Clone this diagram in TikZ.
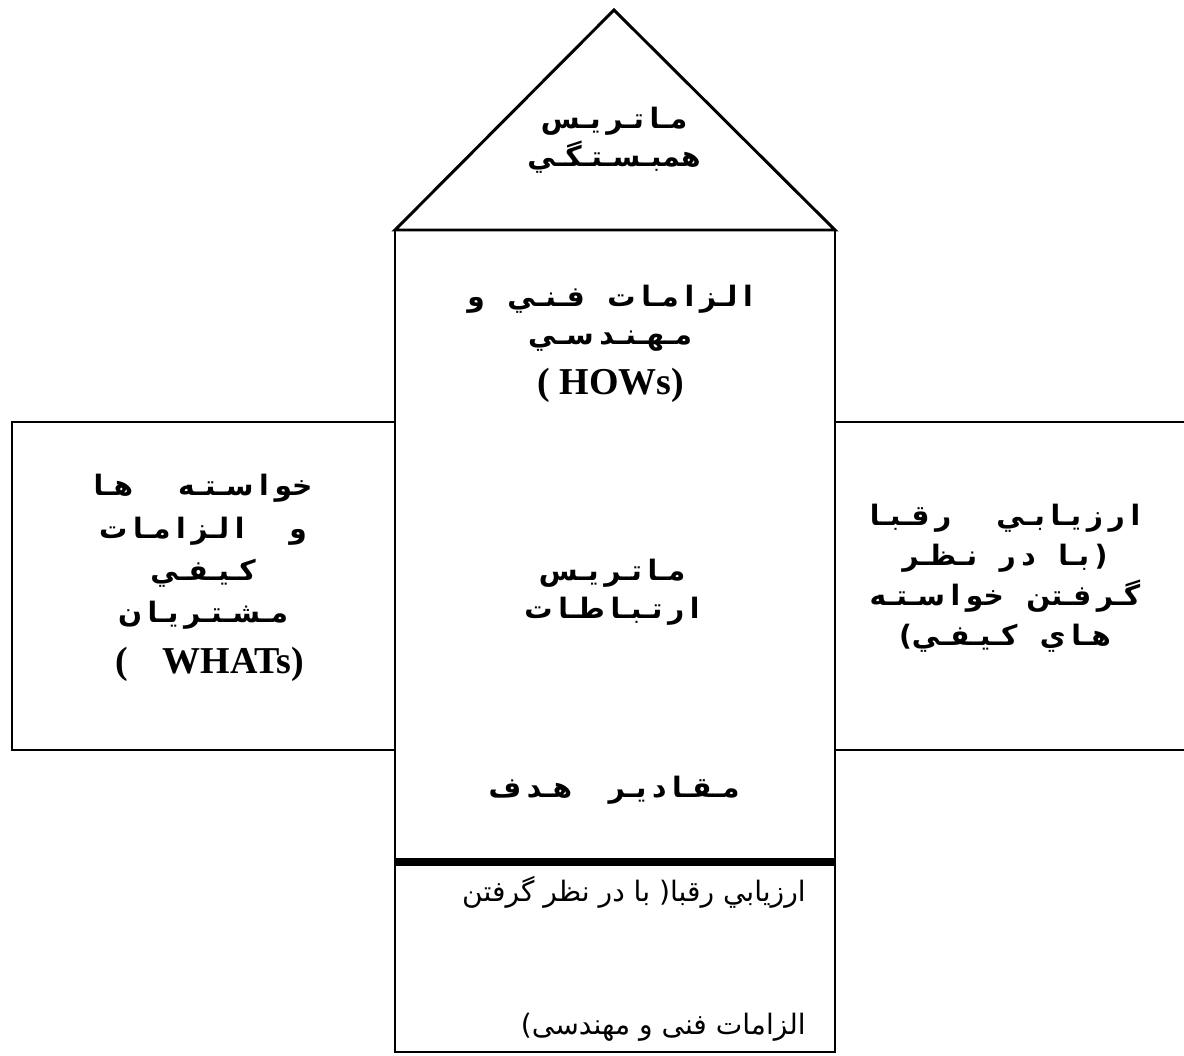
\documentclass[tikz,border=0pt]{standalone}
\usepackage{fontspec}
\usetikzlibrary{positioning}
\TeXXeTstate=1
\newfontfamily\arabicfont[Script=Arabic]{DejaVu Sans}
\newfontfamily\latinserif{Liberation Serif}
\newcommand{\rtl}[1]{\beginR #1\endR}
\newcommand{\wgap}{\hspace{0.8em}}

\begin{document}
\begin{tikzpicture}[x=0.025cm, y=-0.025cm,
    wall/.style={black, line width=2.1pt},
    label/.style={align=center, font=\fontsize{20}{27}\selectfont\arabicfont\bfseries,
      execute at begin node={\spaceskip=4pt\relax}},
    latin/.style={font=\fontsize{27}{29}\selectfont\latinserif\bfseries},
    note/.style={anchor=east, inner sep=0pt, font=\fontsize{20}{24}\selectfont\arabicfont}]
	\useasboundingbox (0,0) rectangle (1184,1055);
	\coordinate (apex) at (614,10);
	\coordinate (roofL) at (395,230);
	\coordinate (roofR) at (835,230);
	\draw[wall, line join=miter](roofL) -- (apex) -- (roofR) -- cycle;
	\draw[wall](roofL) rectangle (835,1052);
	\draw[wall](12,422) rectangle (395,750);
	\draw[wall](835,422) -- (1184,422);
	\draw[wall](835,750) -- (1184,750);
	\draw[black, line width=5.7pt](395,862) -- (835,862);
	\node[label] (corr) at (614,140){\rtl{مـا تـر يـس}\\\rtl{همبـسـتـگـي}};
	\node[label] (hows) at (610,318){\rtl{ا لـز ا مـا ت\wgap فـنـي\wgap و}\\\rtl{مـهـنـد سـي}};
	\node[latin] (howsEn) at (611,385){( HOWs)};
	\node[label, font=\fontsize{20}{30}\selectfont\arabicfont\bfseries] (whats) at (203,552){\rtl{خو ا سـتـه\wgap\wgap هـا}\\\rtl{و\wgap\wgap ا لـز ا مـا ت}\\\rtl{كـيـفـي}\\\rtl{مـشـتـر يـا ن}};
	\node[latin] (whatsEn) at (210,664){(\hspace{0.9em}WHATs)};
	\node[label] (links) at (612,592){\rtl{مـا تـر يـس}\\\rtl{ا ر تـبـا طـا ت}};
	\node[label, font=\fontsize{20}{28.5}\selectfont\arabicfont\bfseries] (rivals) at (1005,578){\rtl{ا ر ز يـا بـي\wgap\wgap ر قـبـا}\\\rtl{( بـا\wgap د ر\wgap نـظـر}\\\rtl{گـر فـتن\wgap خو ا سـتـه}\\\rtl{هـا ي\wgap كـيـفـي)}};
	\node[label] (target) at (614,790){\rtl{مـقـا د يـر\hspace{1.3em}هـد ف}};
	\node[note] (rivalsA) at (806,892){\rtl{ارزيابي رقبا( با در نظر گرفتن}};
	\node[note] (rivalsB) at (806,1027){\rtl{الزامات فنی و مهندسی)}};
\end{tikzpicture}
\end{document}
